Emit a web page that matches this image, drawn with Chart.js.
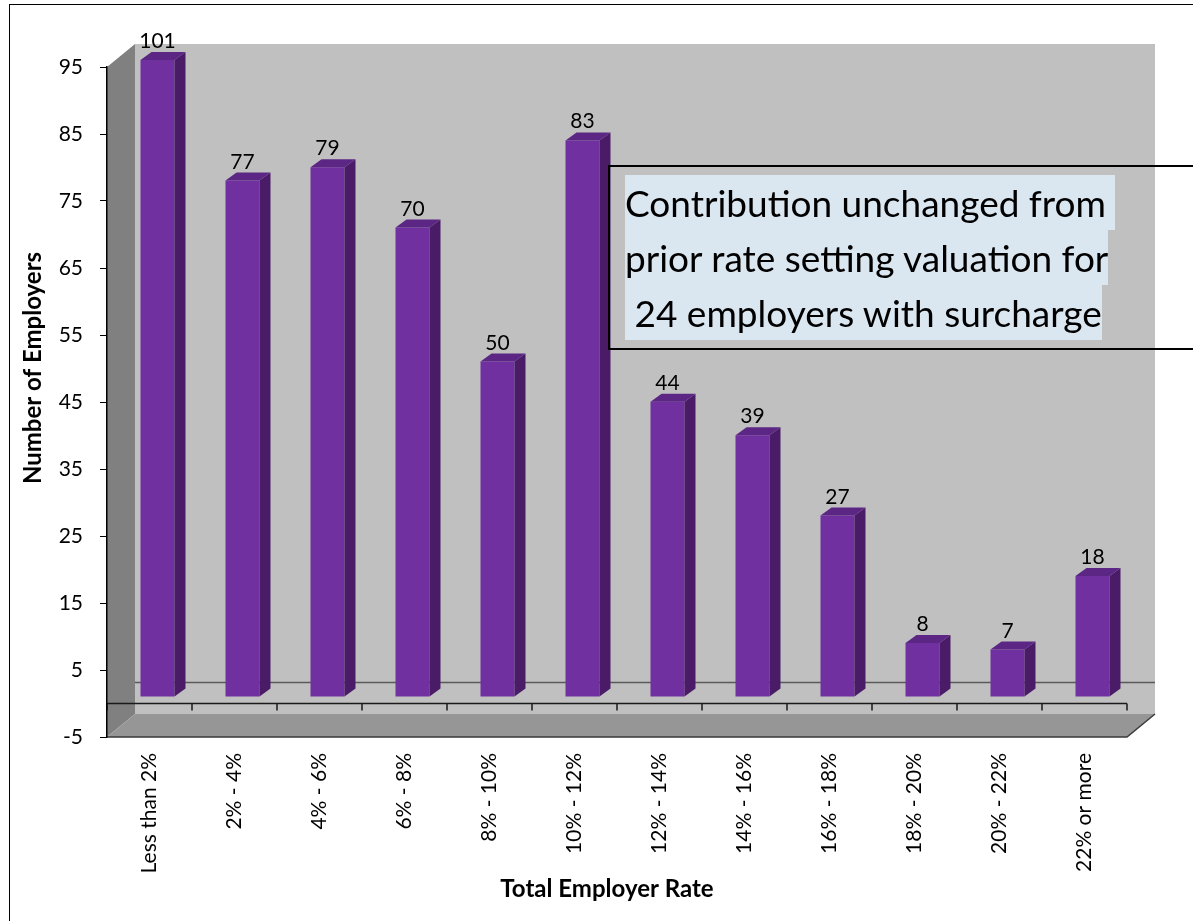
<!DOCTYPE html>
<html>
<head>
<meta charset="utf-8">
<script src="https://cdn.jsdelivr.net/npm/chart.js@4.4.1/dist/chart.umd.min.js"></script>
<style>
  html, body { margin:0; padding:0; background:#fff; }
  #wrap { position:relative; width:1193px; height:921px; overflow:hidden; }
  #frame { position:absolute; left:9px; top:4px; width:1250px; height:1000px; border:1.5px solid #000; box-sizing:border-box; }
  #chart { position:absolute; left:0; top:0; }
  #note {
    position:absolute; left:608px; top:165px; width:640px; height:185px;
    border:2px solid #000; box-sizing:border-box; padding:8px 0 0 15px;
    font-family:Lato, sans-serif; font-size:37px; line-height:55px; color:#000;
  }
  #note span { background:#DAE6F0; white-space:pre; display:inline-block; }
</style>
</head>
<body>
<div id="wrap">
  <div id="frame"></div>
  <canvas id="chart" width="1193" height="921"></canvas>
  <div id="note">
    <span>Contribution unchanged from </span><br>
    <span>prior rate setting valuation for</span><br>
    <span> 24 employers with surcharge</span>
  </div>
</div>
<script>
/* ====== DATA ====== */
const categories = ["Less than 2%", "2% - 4%", "4% - 6%", "6% - 8%", "8% - 10%", "10% - 12%",
                    "12% - 14%", "14% - 16%", "16% - 18%", "18% - 20%", "20% - 22%", "22% or more"];
const employers  = [101, 77, 79, 70, 50, 83, 44, 39, 27, 8, 7, 18];
const yTicks     = [-5, 5, 15, 25, 35, 45, 55, 65, 75, 85, 95];

const xTitle = "Total Employer Rate";
const yTitle = "Number of Employers";

/* ====== 3D LOOK ====== */
const WALL_DX = 28, WALL_DY = 23;   // depth of walls / floor
const BAR_DX  = 11, BAR_DY  = 8;    // depth of each column
const SHIFT_X = 8,  SHIFT_Y = 7;    // columns sit a bit behind the front plane
const FONT = "Lato, sans-serif";

function poly(ctx, pts, fill){
  ctx.beginPath();
  ctx.moveTo(pts[0][0], pts[0][1]);
  for(let i=1;i<pts.length;i++) ctx.lineTo(pts[i][0], pts[i][1]);
  ctx.closePath();
  ctx.fillStyle = fill;
  ctx.fill();
}

const scene3d = {
  id: "scene3d",
  beforeDraw(chart){
    const {ctx, chartArea:a, scales:{x, y}} = chart;
    const y0 = y.getPixelForValue(0);
    ctx.save();
    // back wall
    ctx.fillStyle = "#C0C0C0";
    ctx.fillRect(a.left+WALL_DX, a.top-WALL_DY, a.right-a.left, a.bottom-a.top);
    // side wall
    poly(ctx, [[a.left,a.top],[a.left+WALL_DX,a.top-WALL_DY],[a.left+WALL_DX,a.bottom-WALL_DY],[a.left,a.bottom]], "#808080");
    // floor
    poly(ctx, [[a.left+WALL_DX,a.bottom-WALL_DY],[a.right+WALL_DX,a.bottom-WALL_DY],[a.right,a.bottom],[a.left,a.bottom]], "#969696");
    ctx.strokeStyle = "#3a3a3a";
    ctx.lineWidth = 1.5;
    ctx.beginPath();
    ctx.moveTo(a.left, a.bottom); ctx.lineTo(a.right, a.bottom);
    ctx.lineTo(a.right+WALL_DX, a.bottom-WALL_DY);
    ctx.stroke();
    // zero line on the back wall
    ctx.strokeStyle = "#5a5a5a";
    ctx.lineWidth = 1.5;
    ctx.beginPath();
    ctx.moveTo(a.left+WALL_DX, y0-WALL_DY+2); ctx.lineTo(a.right+WALL_DX, y0-WALL_DY+2);
    ctx.stroke();
    // category axis at zero with tick marks between categories
    ctx.strokeStyle = "#1a1a1a";
    ctx.beginPath();
    ctx.moveTo(a.left, y0); ctx.lineTo(a.right, y0);
    for(let i=0;i<=categories.length;i++){
      const px = i < categories.length ? x.getPixelForValue(i) - x.width/categories.length/2 : a.right;
      ctx.moveTo(px, y0); ctx.lineTo(px, y0+7);
    }
    ctx.stroke();
    ctx.restore();
  },
  beforeDatasetsDraw(chart){
    chart.ctx.save();
    chart.ctx.translate(SHIFT_X, -SHIFT_Y);
  },
  afterDatasetsDraw(chart){
    const {ctx, chartArea:a} = chart;
    const bars = chart.getDatasetMeta(0).data;
    bars.forEach((b, i)=>{
      const top = Math.max(b.y, a.top);
      const l = b.x - b.width/2, r = b.x + b.width/2;
      poly(ctx, [[r,top],[r+BAR_DX,top-BAR_DY],[r+BAR_DX,b.base-BAR_DY],[r,b.base]], "#4A1C68");
      poly(ctx, [[l,top],[l+BAR_DX,top-BAR_DY],[r+BAR_DX,top-BAR_DY],[r,top]], "#5B2684");
      ctx.fillStyle = "#000";
      ctx.font = "21px " + FONT;
      ctx.textAlign = "center";
      ctx.textBaseline = "alphabetic";
      ctx.fillText(String(employers[i]), b.x, top - BAR_DY - 4);
    });
    ctx.restore();
  },
  afterDraw(chart){
    const {ctx, chartArea:a} = chart;
    ctx.save();
    ctx.fillStyle = "#000";
    ctx.font = "bold 24px " + FONT;
    ctx.textAlign = "center";
    ctx.textBaseline = "middle";
    ctx.fillText(xTitle, (a.left+a.right)/2 - 10, a.bottom + 152);
    ctx.translate(a.left - 74, (a.top+a.bottom)/2 - 34);
    ctx.rotate(-Math.PI/2);
    ctx.fillText(yTitle, 0, 0);
    ctx.restore();
  }
};

/* ====== CHART ====== */
const ctx = document.getElementById("chart").getContext("2d");
new Chart(ctx, {
  type: "bar",
  data: {
    labels: categories,
    datasets: [{
      data: employers,
      backgroundColor: "#7030A0",
      barPercentage: 0.4,
      categoryPercentage: 1
    }]
  },
  options: {
    responsive: false,
    animation: false,
    layout: { padding: { left:10, right:66, top:67, bottom:0 } },
    plugins: { legend:{ display:false }, tooltip:{ enabled:false } },
    scales: {
      x: {
        grid: { display:false },
        border: { display:false },
        ticks: { minRotation:90, maxRotation:90, autoSkip:false, padding:8, color:"#000", font:{ family:FONT, size:21 } },
        afterFit(s){ s.height = 184; }
      },
      y: {
        min: -5, max: 95,
        afterBuildTicks(s){ s.ticks = yTicks.map(v => ({ value:v })); },
        grid: { drawOnChartArea:false, tickLength:7, color:"#000" },
        border: { color:"#000", width:1.5 },
        ticks: { padding:17, color:"#000", font:{ family:FONT, size:21 } },
        afterFit(s){ s.width = 97; }
      }
    }
  },
  plugins: [scene3d]
});
</script>
</body>
</html>
